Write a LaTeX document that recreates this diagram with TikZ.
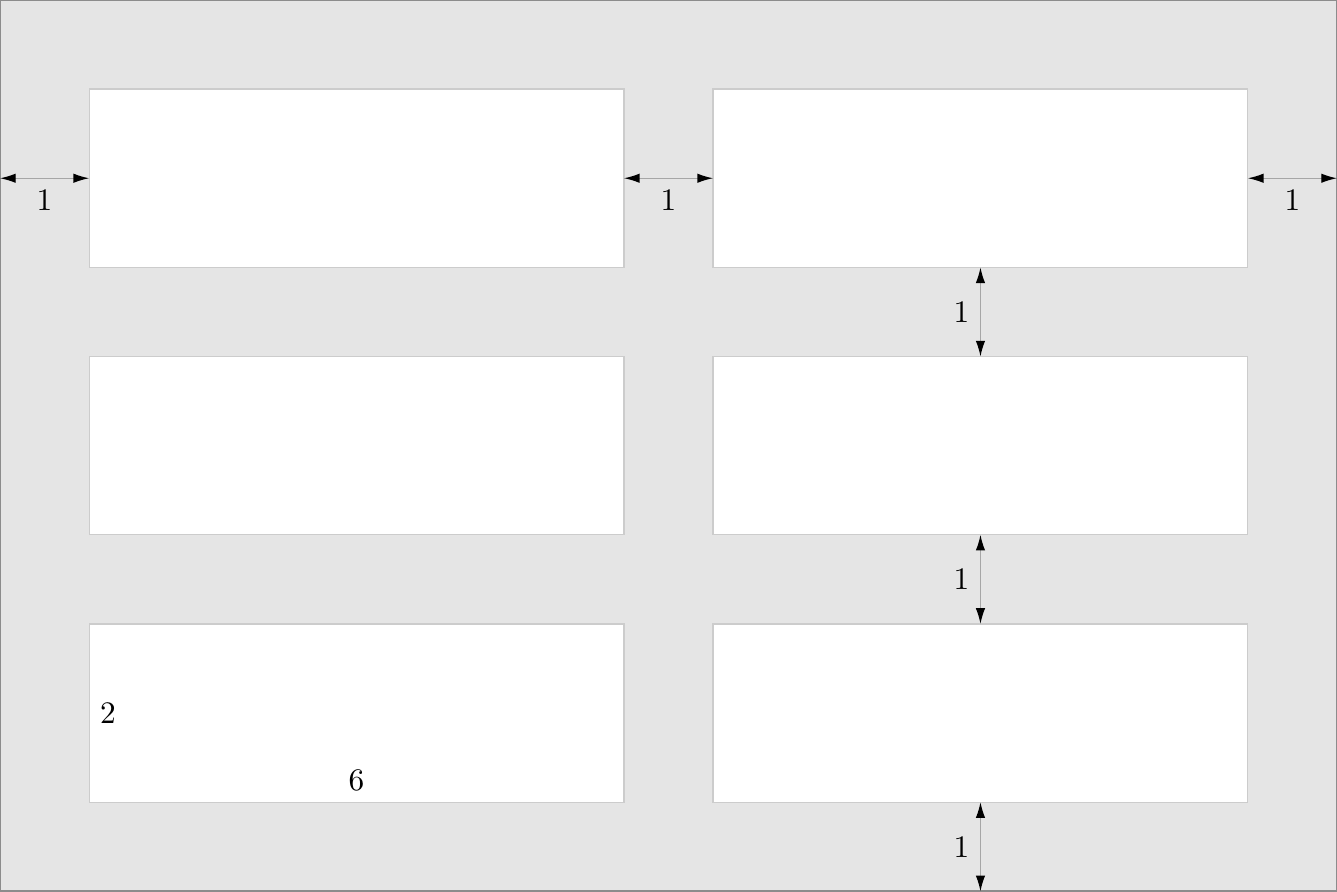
\documentclass[tikz,border=0pt]{standalone}
\usetikzlibrary{arrows.meta}
\begin{document}
\begin{tikzpicture}[x=1cm,y=1cm,
  page/.style={draw=black!45,fill=black!10,line width=0.6pt,minimum width=15cm,minimum height=10cm,inner sep=0pt,outer sep=0pt},
  panel/.style={draw=black!20,fill=white,line width=0.4pt,minimum width=6cm,minimum height=2cm,inner sep=0pt,outer sep=0pt},
  dim/.style={draw=black!35,line width=0.4pt,{Latex[black,length=5pt,width=3pt]}-{Latex[black,length=5pt,width=3pt]}},
  lab/.style={}]
\useasboundingbox (0,0) rectangle (15,10);
\node[page] (bg) at (7.5,5) {};
\node[panel] (a1) at (4,8) {};
\node[panel] (b1) at (11,8) {};
\node[panel] (a2) at (4,5) {};
\node[panel] (b2) at (11,5) {};
\node[panel] (a3) at (4,2) {};
\node[panel] (b3) at (11,2) {};
\coordinate (lw) at (0,8);
\coordinate (re) at (15,8);
\coordinate (bt) at (11,0);
\draw[dim] (lw) -- node[lab,below] {1} (a1.west);
\draw[dim] (a1.east) -- node[lab,below] {1} (b1.west);
\draw[dim] (b1.east) -- node[lab,below] {1} (re);
\draw[dim] (b1.south) -- node[lab,left] {1} (b2.north);
\draw[dim] (b2.south) -- node[lab,left] {1} (b3.north);
\draw[dim] (b3.south) -- node[lab,left] {1} (bt);
\node[lab,anchor=west] (n2) at (a3.west) {2};
\node[lab,anchor=south] (n6) at (a3.south) {6};
\end{tikzpicture}
\end{document}
